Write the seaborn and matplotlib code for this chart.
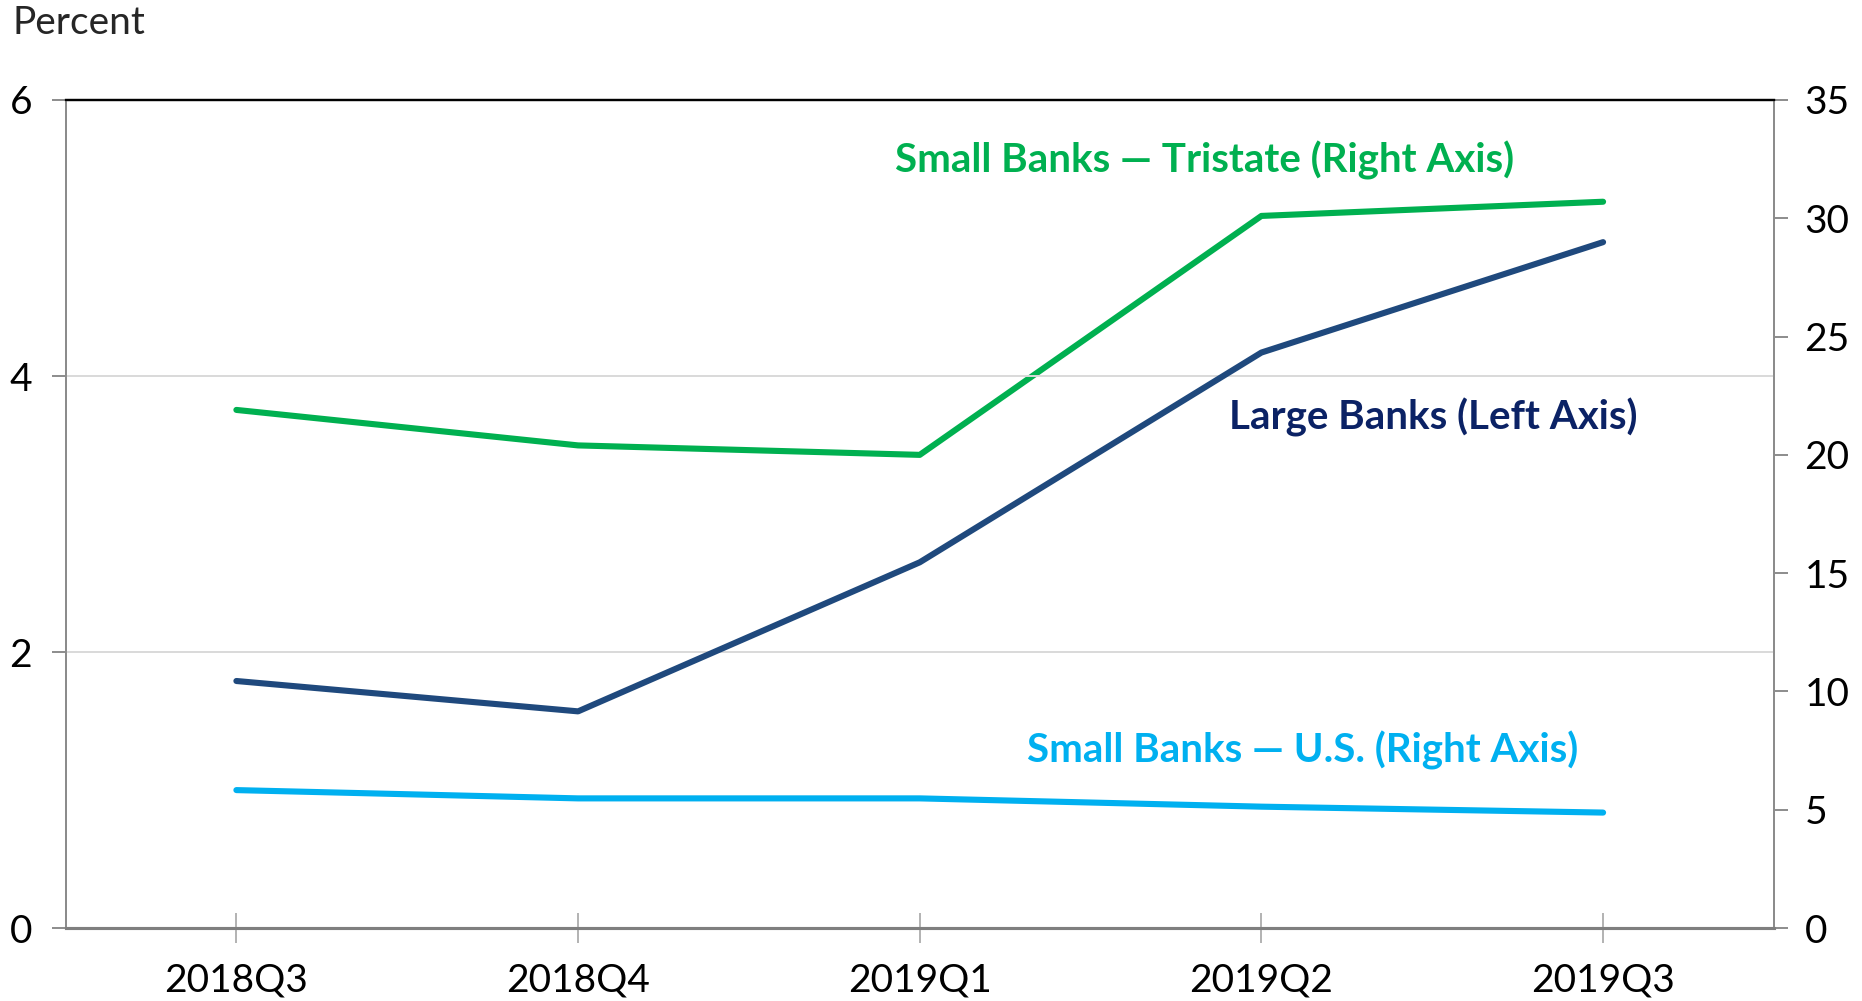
import matplotlib
matplotlib.use("Agg")
import matplotlib.pyplot as plt
import seaborn as sns
import pandas as pd
import numpy as np

quarters = ["2018Q3", "2018Q4", "2019Q1", "2019Q2", "2019Q3"]
large_banks = [1.79, 1.57, 2.65, 4.17, 4.97]          # left axis
small_tristate = [21.9, 20.4, 20.0, 30.1, 30.7]       # right axis
small_us = [5.83, 5.48, 5.48, 5.13, 4.88]             # right axis

left_ticks = [0, 2, 4, 6]
right_ticks = [0, 5, 10, 15, 20, 25, 30, 35]

sns.set_theme(style="white")
plt.rcParams['font.family'] = ['Lato', 'DejaVu Sans']

df = pd.DataFrame({"pos": np.arange(len(quarters)), "q": quarters,
                   "large": large_banks, "tri": small_tristate, "us": small_us})

fig = plt.figure(figsize=(18.62, 10.01), dpi=100)
ax = fig.add_axes([0.0352, 0.0729, 0.9175, 0.8272])
ax2 = ax.twinx()

GREEN = "#00B050"
NAVY = "#1F497D"
NAVY_T = "#0B2265"
LBLUE = "#00B0F0"
lw = 4.4

sns.lineplot(data=df, x="pos", y="tri", ax=ax2, color=GREEN, lw=lw)
sns.lineplot(data=df, x="pos", y="us", ax=ax2, color=LBLUE, lw=lw)
sns.lineplot(data=df, x="pos", y="large", ax=ax, color=NAVY, lw=lw, zorder=5)
ax.set_zorder(ax2.get_zorder() + 1)
ax.patch.set_visible(False)

ax.set_xlim(-0.5, 4.5)
ax.set_ylim(0, 6)
ax2.set_ylim(0, 35)
ax.set_yticks(left_ticks)
ax2.set_yticks(right_ticks)
ax.set_xticks(range(len(quarters)))
ax.set_xticklabels(quarters)
ax.set_xticks([4.5], minor=True)
ax.set_xlabel("")
ax.set_ylabel("")
ax2.set_ylabel("")

for a in (ax, ax2):
    for s in a.spines.values():
        s.set_visible(True)
    a.spines['left'].set_color("#8C8C8C")
    a.spines['right'].set_color("#8C8C8C")
    a.spines['top'].set_color("black")
    a.spines['top'].set_linewidth(1.6)
    a.spines['bottom'].set_color("#7F7F7F")
    a.spines['bottom'].set_linewidth(2.2)
    a.spines['left'].set_linewidth(1.4)
    a.spines['right'].set_linewidth(1.4)

ax.grid(axis='y', color="#D9D9D9", lw=1.4)
ax.set_axisbelow(True)
ax2.grid(False)

ax.tick_params(axis='y', which='major', direction='out', length=10, width=1.4,
               color="#8C8C8C", labelsize=28, pad=14, labelcolor="black")
ax2.tick_params(axis='y', which='major', direction='out', length=10, width=1.4,
                color="#8C8C8C", labelsize=28, pad=12, labelcolor="black")
ax.tick_params(axis='x', which='major', direction='inout', length=22, width=1.2,
               color="#A6A6A6", labelsize=28, pad=14, labelcolor="black")
ax.tick_params(axis='x', which='minor', direction='out', length=11, width=1.4,
               color="#8C8C8C")
ax.tick_params(axis='x', bottom=True)
ax.tick_params(axis='y', left=True)
ax2.tick_params(axis='y', right=True)

fig.text(0.0065, 0.977, "Percent", fontsize=28, ha="left", va="center")

ax.text(2.835, 5.565, "Small Banks \u2014 Tristate (Right Axis)", color=GREEN,
        fontsize=29, fontweight="bold", ha="center", va="center")
ax.text(3.504, 3.70, "Large Banks (Left Axis)", color=NAVY_T,
        fontsize=29, fontweight="bold", ha="center", va="center")
ax.text(3.12, 1.29, "Small Banks \u2014 U.S. (Right Axis)", color=LBLUE,
        fontsize=29, fontweight="bold", ha="center", va="center")

fig.savefig("out.png", dpi=100)
